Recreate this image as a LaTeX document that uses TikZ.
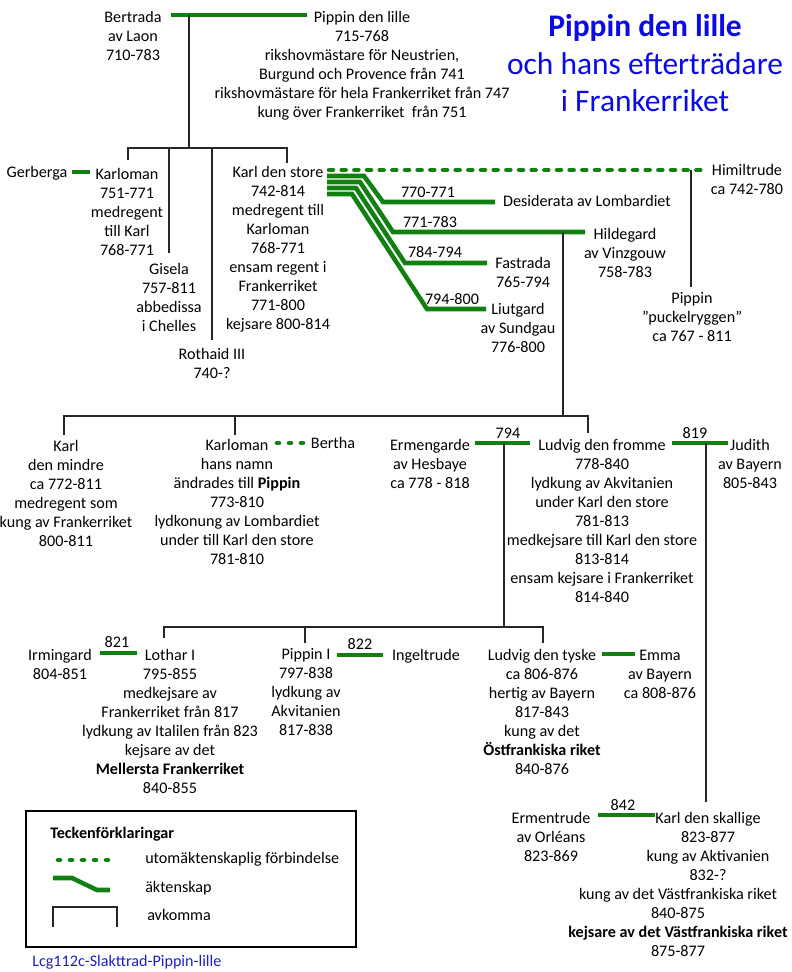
\documentclass[tikz,border=0pt]{standalone}
\usepackage{fontspec}
\setmainfont{Carlito}
\definecolor{mgreen}{RGB}{16,128,16}
\definecolor{tblue}{RGB}{10,10,230}
\definecolor{cblue}{RGB}{30,30,200}
\newcommand\nf{\fontsize{12.1}{14.25}\selectfont}
\newcommand\tf{\fontsize{23.6}{28.1}\selectfont}
\begin{document}
\begin{tikzpicture}[x=0.75pt,y=-0.75pt,
 txt/.style={anchor=north,inner sep=0pt,align=center,font=\nf,yshift=-2.7pt,execute at begin node=\strut},
 txtone/.style={anchor=north,inner sep=0pt,align=center,font=\nf,execute at begin node=\strut},
 leg/.style={anchor=west,inner sep=0pt,font=\nf,execute at begin node=\strut},
 mar/.style={draw=mgreen,line width=3.4pt},
 ext/.style={draw=mgreen,line width=3.4pt,line cap=round,dash pattern=on 3pt off 6.5pt},
 dotl/.style={draw=mgreen,line width=3.4pt,line cap=round,dash pattern=on 1.5pt off 7.5pt},
 desc/.style={draw=black!85,line width=0.9pt}]
\useasboundingbox (0,0) rectangle (792,972);

% title
\node[anchor=north,inner sep=0pt,align=center,font=\tf,text=tblue,execute at begin node=\strut] (title) at (645,14.5) {{\bfseries Pippin den lille}\\och hans efterträdare\\i Frankerriket};

% generation 1
\node[txt] (bertrada) at (133,7) {Bertrada\\av Laon\\710-783};
\node[txt] (pippin) at (362,7) {Pippin den lille\\715-768\\rikshovmästare för Neustrien,\\Burgund och Provence från 741\\rikshovmästare för hela Frankerriket från 747\\kung över Frankerriket\ \ från 751};
\coordinate (m1a) at (171,15); \coordinate (m1b) at (307,15);
\draw[mar] (m1a) -- (m1b);
\coordinate (d1) at (189,15); \coordinate (h1) at (189,148);
\draw[desc] (d1) -- (h1);
\draw[desc] (128,160) -- (128,148) -- (287,148) -- (287,163);
\draw[desc] (169,148) -- (169,253);
\draw[desc] (212,148) -- (212,340);

% generation 2
\node[txtone] (gerberga) at (37,164) {Gerberga};
\draw[mar] (72,172) -- (90,172);
\node[txt] (karloman) at (127,164) {Karloman\\751-771\\medregent\\till Karl\\768-771};
\node[txt] (gisela) at (169,259) {Gisela\\757-811\\abbedissa\\i Chelles};
\node[txt] (rothaid) at (212,344) {Rothaid III\\740-?};
\node[txt] (karl) at (278,162) {Karl den store\\742-814\\medregent till\\Karloman\\768-771\\ensam regent i\\Frankerriket\\771-800\\kejsare 800-814};

\node[txt] (himiltrude) at (747,160) {Himiltrude\\ca 742-780};
\draw[ext] (329,170) -- (706,170);
\draw[desc] (691,170) -- (691,287);
\node[txt] (pippinp) at (692,289) {Pippin\\”puckelryggen”\\ca 767 - 811};

\draw[mar] (327,176) -- (364,176) -- (383,202) -- (495,202);
\draw[mar] (327,182) -- (360,182) -- (393,232) -- (585,232);
\draw[mar] (327,188) -- (356,188) -- (405,263) -- (487,263);
\draw[mar] (327,194) -- (352,194) -- (427,309) -- (486,309);
\node[txtone] (l1) at (428,184) {770-771};
\node[txtone] (l2) at (430,214) {771-783};
\node[txtone] (l3) at (435,244) {784-794};
\node[txtone] (l4) at (452,291) {794-800};
\node[txtone] (desiderata) at (587,193) {Desiderata av Lombardiet};
\node[txt] (hildegard) at (625,224) {Hildegard\\av Vinzgouw\\758-783};
\node[txt] (fastrada) at (523,253) {Fastrada\\765-794};
\node[txt] (liutgard) at (518,299) {Liutgard\\av Sundgau\\776-800};

\draw[desc] (563,232) -- (563,416);
\draw[desc] (64,435) -- (64,416) -- (588,416) -- (588,433);
\draw[desc] (235,416) -- (235,435);

% generation 3
\node[txt] (karlm) at (66,436) {Karl\\den mindre\\ca 772-811\\medregent som\\kung av Frankerriket\\800-811};
\node[txt] (karloman2) at (237,435) {Karloman\\hans namn\\ändrades till \textbf{Pippin}\\773-810\\lydkonung av Lombardiet\\under till Karl den store\\781-810};
\draw[dotl] (277,443) -- (305,443);
\node[txtone] (bertha) at (333,435) {Bertha};
\node[txt] (ermengarde) at (430,435) {Ermengarde\\av Hesbaye\\ca 778 - 818};
\draw[mar] (475,443) -- (530,443);
\node[txtone] (y794) at (508,425) {794};
\draw[desc] (504,443) -- (504,627);
\node[txt] (ludvig) at (602,435) {Ludvig den fromme\\778-840\\lydkung av Akvitanien\\under Karl den store\\781-813\\medkejsare till Karl den store\\813-814\\ensam kejsare i Frankerriket\\814-840};
\draw[mar] (672,443) -- (728,443);
\node[txtone] (y819) at (695,425) {819};
\draw[desc] (706,443) -- (706,802);
\node[txt] (judith) at (750,435) {Judith\\av Bayern\\805-843};

% generation 4
\draw[desc] (164,638) -- (164,627) -- (543,627) -- (543,643);
\draw[desc] (305,627) -- (305,643);
\node[txt] (irmingard) at (60,645) {Irmingard\\804-851};
\draw[mar] (100,653) -- (137,653);
\node[txtone] (y821) at (117,634) {821};
\node[txt] (lothar) at (170,645) {Lothar I\\795-855\\medkejsare av\\Frankerriket från 817\\lydkung av Italilen från 823\\kejsare av det\\\textbf{Mellersta Frankerriket}\\840-855};
\node[txt] (pippinI) at (306,645) {Pippin I\\797-838\\lydkung av\\Akvitanien\\817-838};
\draw[mar] (337,655) -- (383,655);
\node[txtone] (y822) at (360,636) {822};
\node[txtone] (ingeltrude) at (426,647) {Ingeltrude};
\node[txt] (ludvigt) at (542,645) {Ludvig den tyske\\ca 806-876\\hertig av Bayern\\817-843\\kung av det\\\textbf{Östfrankiska riket}\\840-876};
\draw[mar] (602,654) -- (635,654);
\node[txt] (emma) at (660,646) {Emma\\av Bayern\\ca 808-876};

% generation 5
\node[txt] (ermentrude) at (551,808) {Ermentrude\\av Orléans\\823-869};
\draw[mar] (598,815) -- (655,815);
\node[txtone] (y842) at (623,797) {842};
\node[txt] (karlsk) at (708,808) {Karl den skallige\\823-877\\kung av Aktivanien\\832-?};
\node[txt] (karlsk2) at (678,884) {kung av det Västfrankiska riket\\840-875\\\textbf{kejsare av det Västfrankiska riket}\\875-877};

% legend
\draw[line width=2pt] (26,811) rectangle (356,947);
\node[leg,font=\nf\bfseries] (legtitle) at (50,835) {Teckenförklaringar};
\draw[dotl] (58,860) -- (115,860);
\node[leg] (leg1) at (145,860) {utomäktenskaplig förbindelse};
\draw[mar] (53,878) -- (72,878) -- (97,890) -- (110,890);
\node[leg] (leg2) at (145,889) {äktenskap};
\draw[desc] (53,927) -- (53,907) -- (117,907) -- (117,927);
\node[leg] (leg3) at (147,917) {avkomma};
\node[leg,text=cblue] (caption) at (32,963) {Lcg112c-Slakttrad-Pippin-lille};
\end{tikzpicture}
\end{document}
